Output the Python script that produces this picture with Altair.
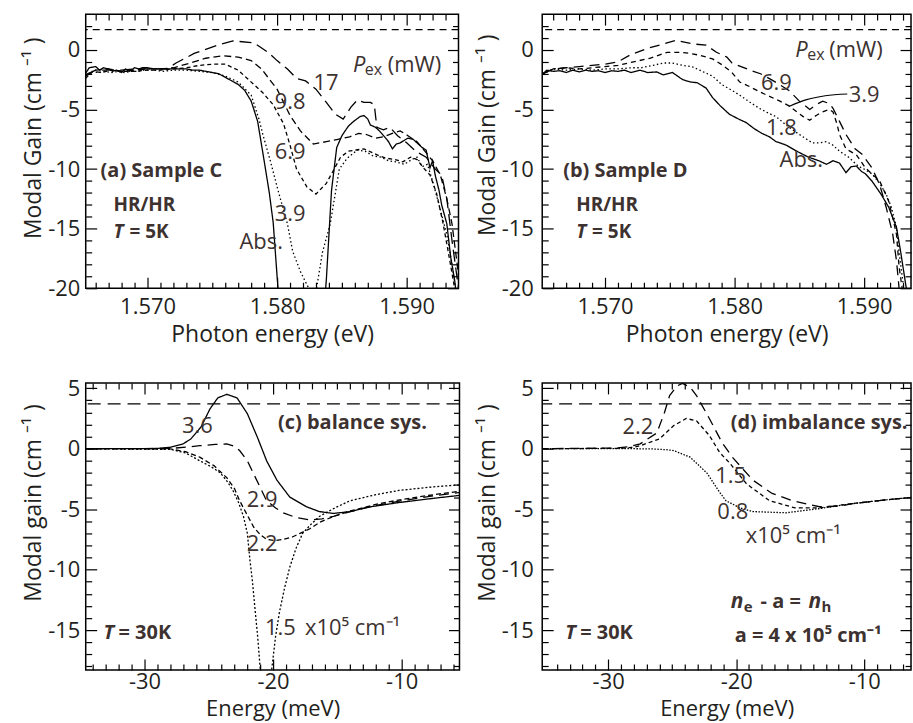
import altair as alt
import pandas as pd

FONT = "Open Sans"
AXIS_C = "#231f20"
NOTE_C = "#3d3230"

# ---------------- Panel (a): Sample C, photon energy (eV) vs modal gain ----------------
a_names = ["Abs.", "3.9", "6.9", "9.8", "17"]
a_abs = [(1.5652,-2.0),(1.5655,-1.5),(1.5660,-1.4),(1.5663,-1.7),(1.5666,-1.5),(1.5670,-1.6),(1.5673,-1.8),
         (1.5676,-1.7),(1.5680,-1.9),(1.5683,-1.6),(1.5686,-1.8),(1.5690,-1.5),(1.5693,-1.6),(1.5696,-1.5),
         (1.5700,-1.5),(1.5705,-1.6),(1.5710,-1.6),(1.5715,-1.6),(1.5720,-1.6),(1.5725,-1.6),(1.5730,-1.6),
         (1.5735,-1.7),(1.5740,-1.7),(1.5745,-1.8),(1.5750,-1.9),(1.5755,-2.0),(1.5760,-2.3),(1.5765,-2.6),
         (1.5770,-2.9),(1.5775,-3.4),(1.5780,-4.3),(1.5785,-6.0),(1.5790,-9.3),(1.5794,-12.0),(1.5797,-14.5),
         (1.5800,-19.0),(1.5802,-22.0),(1.5836,-22.0),(1.5838,-19.3),(1.5842,-11.8),(1.5846,-8.2),(1.5850,-7.2),
         (1.5855,-6.4),(1.5859,-6.0),(1.5864,-5.6),(1.5867,-5.5),(1.5870,-5.8),(1.5872,-6.3),(1.5876,-6.5),
         (1.5879,-6.8),(1.5883,-7.3),(1.5886,-7.7),(1.5889,-8.3),(1.5892,-7.9),(1.5895,-7.8),(1.5898,-7.6),
         (1.5901,-7.4),(1.5905,-7.5),(1.5908,-7.8),(1.5912,-8.2),(1.5915,-8.4),(1.5918,-9.9),(1.5920,-9.3),
         (1.5922,-10.5),(1.5925,-11.8),(1.5927,-13.0),(1.5931,-14.6),(1.5934,-17.4),(1.5937,-19.3),(1.5940,-22.0)]
a_39 = [(1.5652,-2.2),(1.5657,-1.8),(1.5662,-1.9),(1.5667,-1.8),(1.5672,-1.9),(1.5677,-1.8),(1.5682,-1.9),
        (1.5687,-1.8),(1.5692,-1.8),(1.5697,-1.7),(1.5705,-1.7),(1.5712,-1.8),(1.5720,-1.7),(1.5730,-1.7),
        (1.5740,-1.8),(1.5750,-1.9),(1.5760,-2.2),(1.5770,-2.7),(1.5780,-3.8),(1.5786,-5.8),(1.5789,-7.1),
        (1.5795,-9.4),(1.5801,-11.9),(1.5808,-14.6),(1.5812,-16.9),(1.5818,-18.6),(1.5823,-19.7),(1.5826,-20.3),
        (1.5830,-20.3),(1.5835,-17.0),(1.5841,-14.6),(1.5845,-12.0),(1.5848,-10.0),(1.5854,-9.1),(1.5862,-8.4),
        (1.5868,-8.5),(1.5874,-8.9),(1.5880,-9.0),(1.5886,-9.3),(1.5892,-9.4),(1.5898,-9.6),(1.5904,-9.2),
        (1.5908,-9.0),(1.5912,-9.8),(1.5916,-9.6),(1.5920,-11.0),(1.5925,-13.0),(1.5931,-15.5),(1.5935,-18.0),
        (1.5939,-21.0)]
a_69 = [(1.5652,-2.4),(1.5658,-1.8),(1.5665,-1.9),(1.5672,-1.7),(1.5680,-1.8),(1.5690,-1.8),(1.5700,-1.7),
        (1.5710,-1.7),(1.5720,-1.6),(1.5730,-1.5),(1.5740,-1.3),(1.5750,-1.2),(1.5760,-1.2),(1.5770,-1.7),
        (1.5777,-2.4),(1.5783,-3.0),(1.5789,-3.6),(1.5797,-4.6),(1.5805,-6.2),(1.5810,-8.0),(1.5815,-10.0),
        (1.5823,-11.5),(1.5830,-12.1),(1.5838,-11.2),(1.5844,-10.0),(1.5849,-9.0),(1.5855,-8.5),(1.5861,-8.4),
        (1.5867,-8.3),(1.5873,-8.6),(1.5879,-8.9),(1.5885,-9.1),(1.5891,-9.2),(1.5897,-9.4),(1.5903,-9.0),
        (1.5908,-9.2),(1.5913,-9.9),(1.5918,-10.5),(1.5923,-12.0),(1.5928,-14.5),(1.5933,-17.5),(1.5937,-20.0),
        (1.5941,-22.0)]
a_98 = [(1.5652,-2.2),(1.5660,-1.7),(1.5670,-1.6),(1.5680,-1.8),(1.5690,-1.7),(1.5700,-1.6),(1.5710,-1.6),
        (1.5720,-1.5),(1.5733,-1.1),(1.5745,-0.7),(1.5758,-0.5),(1.5770,-0.6),(1.5780,-0.9),(1.5788,-1.6),
        (1.5795,-2.6),(1.5800,-3.3),(1.5805,-4.4),(1.5810,-5.5),(1.5818,-6.8),(1.5828,-7.9),(1.5838,-7.7),
        (1.5847,-7.5),(1.5856,-7.3),(1.5863,-7.0),(1.5869,-7.1),(1.5876,-7.4),(1.5882,-7.3),(1.5889,-7.0),
        (1.5895,-6.8),(1.5901,-7.2),(1.5908,-7.7),(1.5914,-8.5),(1.5920,-9.3),(1.5926,-10.5),(1.5931,-12.5),
        (1.5935,-14.6),(1.5939,-18.0),(1.5943,-22.0)]
a_17 = [(1.5652,-2.1),(1.5660,-1.7),(1.5670,-1.7),(1.5680,-1.7),(1.5690,-1.6),(1.5700,-1.6),(1.5708,-1.6),
        (1.5715,-1.6),(1.5722,-1.1),(1.5736,-0.3),(1.5754,0.4),(1.5766,0.75),(1.5782,0.6),(1.5793,-0.2),
        (1.5800,-0.9),(1.5808,-1.6),(1.5815,-2.4),(1.5822,-2.6),(1.5830,-3.3),(1.5838,-4.4),(1.5845,-5.4),
        (1.5851,-5.8),(1.5857,-4.8),(1.5862,-4.2),(1.5867,-4.4),(1.5872,-4.4),(1.5875,-4.6),(1.5877,-6.5),
        (1.5882,-6.7),(1.5887,-6.5),(1.5893,-7.2),(1.5900,-7.8),(1.5907,-8.5),(1.5915,-9.0),(1.5922,-10.0),
        (1.5927,-10.5),(1.5931,-12.5),(1.5935,-16.0),(1.5940,-20.0),(1.5943,-22.0)]

# ---------------- Panel (b): Sample D ----------------
b_names = ["Abs.", "1.8", "3.9", "6.9"]
b_abs = [(1.5652,-2.0),(1.5655,-1.7),(1.5660,-1.8),(1.5665,-1.75),(1.5670,-1.9),(1.5675,-1.7),(1.5680,-1.85),
         (1.5685,-1.7),(1.5690,-1.8),(1.5695,-1.75),(1.5700,-1.9),(1.5705,-1.75),(1.5710,-1.8),(1.5715,-1.7),
         (1.5720,-1.9),(1.5727,-1.7),(1.5733,-1.9),(1.5740,-1.85),(1.5745,-2.1),(1.5752,-1.9),(1.5760,-2.5),
         (1.5766,-2.7),(1.5771,-2.75),(1.5778,-3.2),(1.5783,-4.0),(1.5789,-4.7),(1.5796,-5.4),(1.5803,-5.8),
         (1.5809,-6.1),(1.5815,-6.6),(1.5821,-7.0),(1.5827,-7.3),(1.5832,-7.7),(1.5835,-7.8),(1.5840,-8.0),
         (1.5848,-8.5),(1.5857,-9.0),(1.5865,-9.3),(1.5871,-9.6),(1.5876,-9.3),(1.5881,-9.5),(1.5886,-10.3),
         (1.5890,-9.8),(1.5894,-9.75),(1.5898,-10.2),(1.5901,-10.4),(1.5906,-11.0),(1.5913,-12.1),(1.5919,-13.2),
         (1.5925,-14.9),(1.5928,-16.8),(1.5932,-19.6),(1.5934,-21.0)]
b_18 = [(1.5652,-2.0),(1.5660,-1.6),(1.5670,-1.7),(1.5680,-1.6),(1.5690,-1.7),(1.5700,-1.6),(1.5710,-1.6),
        (1.5720,-1.5),(1.5728,-1.5),(1.5737,-1.3),(1.5745,-1.1),(1.5752,-1.1),(1.5760,-1.3),(1.5767,-1.4),
        (1.5773,-1.7),(1.5783,-2.2),(1.5790,-2.9),(1.5798,-3.4),(1.5804,-3.8),(1.5812,-4.4),(1.5819,-4.9),
        (1.5826,-5.3),(1.5832,-5.6),(1.5841,-6.4),(1.5850,-7.1),(1.5860,-7.8),(1.5866,-7.8),(1.5871,-7.7),
        (1.5876,-8.0),(1.5881,-8.5),(1.5888,-9.0),(1.5896,-9.8),(1.5900,-10.0),(1.5906,-10.4),(1.5912,-11.2),
        (1.5917,-12.1),(1.5921,-13.2),(1.5925,-14.9),(1.5927,-17.0),(1.5930,-19.5),(1.5932,-21.0)]
b_39 = [(1.5652,-2.0),(1.5660,-1.6),(1.5670,-1.5),(1.5680,-1.6),(1.5690,-1.5),(1.5700,-1.4),(1.5710,-1.3),
        (1.5722,-1.0),(1.5735,-0.7),(1.5748,-0.2),(1.5758,-0.2),(1.5766,-0.3),(1.5773,-0.45),(1.5783,-0.75),
        (1.5791,-1.3),(1.5798,-1.9),(1.5804,-2.7),(1.5812,-3.1),(1.5819,-3.5),(1.5827,-3.9),(1.5835,-4.3),
        (1.5842,-4.7),(1.5848,-5.2),(1.5853,-5.6),(1.5858,-5.9),(1.5863,-5.5),(1.5868,-5.2),(1.5873,-5.0),
        (1.5876,-5.2),(1.5879,-6.2),(1.5881,-7.1),(1.5886,-8.3),(1.5894,-8.8),(1.5901,-9.9),(1.5906,-10.4),
        (1.5912,-11.0),(1.5919,-12.7),(1.5923,-14.5),(1.5925,-15.5),(1.5927,-18.2),(1.5930,-20.5)]
b_69 = [(1.5652,-2.0),(1.5660,-1.6),(1.5670,-1.5),(1.5680,-1.4),(1.5690,-1.3),(1.5700,-1.2),(1.5710,-1.0),
        (1.5719,-0.45),(1.5732,0.1),(1.5745,0.5),(1.5755,0.8),(1.5768,0.5),(1.5778,0.4),(1.5786,-0.2),
        (1.5794,-0.6),(1.5798,-1.1),(1.5812,-1.7),(1.5820,-2.0),(1.5830,-2.6),(1.5842,-3.4),(1.5850,-4.3),
        (1.5858,-5.0),(1.5863,-4.6),(1.5868,-4.3),(1.5873,-4.5),(1.5876,-4.9),(1.5881,-6.0),(1.5886,-7.1),
        (1.5893,-8.3),(1.5899,-8.8),(1.5902,-9.3),(1.5906,-9.9),(1.5912,-11.3),(1.5917,-13.2),(1.5922,-15.4),
        (1.5925,-17.7),(1.5927,-20.0),(1.5929,-21.0)]
b_leader = [(1.5842,-4.75),(1.5855,-4.2),(1.5870,-3.85),(1.5887,-3.7)]

# ---------------- Panel (c): balance system, energy (meV) ----------------
c_names = ["3.6", "2.9", "2.2", "1.5"]
c_36 = [(-35,0),(-30,0),(-29,0.02),(-28,0.12),(-27,0.4),(-26.4,0.8),(-25.6,1.8),(-24.9,3.3),(-24.3,4.2),
        (-23.6,4.5),(-22.8,4.2),(-22.0,2.9),(-21.2,0.9),(-20.5,-1.0),(-19.7,-2.6),(-18.7,-4.0),(-17.4,-4.8),
        (-16.4,-5.2),(-15.3,-5.35),(-14.0,-5.2),(-12.7,-4.85),(-10.2,-4.45),(-7.5,-4.1),(-5.0,-3.8)]
c_29 = [(-35,0),(-28,0.02),(-26.5,0.15),(-25.7,0.25),(-24.5,0.35),(-23.6,0.4),(-23.0,0.2),(-22.6,-0.15),
        (-22.0,-1.0),(-21.5,-2.1),(-21.0,-3.2),(-20.5,-4.3),(-19.8,-4.9),(-19.2,-5.3),(-18.2,-5.7),(-17.1,-5.9),
        (-16.2,-5.8),(-15.3,-5.6),(-14.0,-5.2),(-12.0,-4.7),(-10.0,-4.3),(-7.5,-3.9),(-5.0,-3.55)]
c_22 = [(-35,0),(-28,-0.02),(-26.8,-0.25),(-25.7,-0.7),(-24.6,-1.4),(-23.6,-2.4),(-23.0,-3.3),(-22.6,-4.3),
        (-22.0,-5.5),(-21.5,-6.5),(-21.0,-7.1),(-20.5,-7.5),(-19.8,-7.6),(-19.2,-7.5),(-18.5,-7.3),(-17.9,-7.0),
        (-17.1,-6.6),(-16.4,-6.1),(-15.3,-5.6),(-14.0,-5.15),(-12.0,-4.6),(-10.0,-4.2),(-7.5,-3.8),(-5.0,-3.45)]
c_15 = [(-35,0),(-28,-0.05),(-26.8,-0.35),(-25.7,-1.0),(-24.8,-1.5),(-24.1,-2.0),(-23.5,-2.8),(-23.1,-3.5),
        (-22.7,-4.4),(-22.3,-5.6),(-22.0,-7.0),(-21.8,-9.2),(-21.6,-11.0),(-21.4,-13.3),(-21.2,-15.5),
        (-21.0,-18.2),(-20.8,-20.5),(-20.3,-20.5),(-20.1,-18.2),(-19.8,-15.5),(-19.5,-13.5),(-19.1,-11.5),
        (-18.7,-9.8),(-18.2,-8.2),(-17.7,-7.0),(-17.0,-6.2),(-16.4,-5.6),(-15.2,-4.9),(-14.0,-4.3),(-12.0,-3.8),
        (-10.2,-3.45),(-7.5,-3.15),(-5.0,-2.95)]

# ---------------- Panel (d): imbalance system ----------------
d_names = ["2.2", "1.5", "0.8"]
d_22 = [(-35.5,0),(-29.5,0.05),(-28.5,0.15),(-27.5,0.4),(-26.2,1.3),(-25.6,3.0),(-25.2,4.4),(-24.6,5.2),
        (-24.2,5.4),(-23.6,5.1),(-23.1,4.4),(-22.1,2.5),(-21.1,0.5),(-20.3,-0.7),(-18.7,-2.6),(-17.2,-3.7),
        (-15.6,-4.3),(-13.5,-4.8),(-12.0,-4.75),(-10.9,-4.55),(-8.5,-4.25),(-6.0,-4.0)]
d_15 = [(-35.5,0),(-29.0,0.03),(-28.0,0.12),(-27.5,0.25),(-26.0,0.8),(-24.9,1.9),(-23.9,2.5),(-23.1,2.3),
        (-22.1,1.1),(-21.3,-0.3),(-20.5,-1.2),(-19.2,-2.9),(-17.4,-4.3),(-15.4,-4.9),(-13.5,-4.9),(-11.0,-4.55),
        (-8.5,-4.25),(-6.0,-4.0)]
d_08 = [(-35.5,0),(-28.0,0.0),(-26.5,-0.02),(-25.5,-0.08),(-24.9,-0.15),(-23.6,-0.7),(-22.3,-2.0),(-21.3,-3.6),
        (-20.8,-4.3),(-19.7,-4.9),(-18.7,-5.2),(-16.1,-5.3),(-13.5,-4.95),(-11.0,-4.55),(-8.5,-4.25),(-6.0,-4.0)]

# axis tick values
ab_xmaj = [1.570, 1.580, 1.590]
ab_xmin = [round(1.566 + 0.001 * i, 3) for i in range(28) if (6 + i) % 10 != 0]
ab_ymaj = [-20, -15, -10, -5, 0]
ab_ymin = [v for v in range(-19, 3) if v % 5 != 0]
cd_xmaj = [-30, -20, -10]
cd_xmin = [v for v in range(-34, -5) if v % 10 != 0]
cd_ymaj = [-15, -10, -5, 0, 5]
cd_ymin = [v for v in range(-18, 6) if v % 5 != 0]

# annotations: x, y (baseline), text, size, weight, style, dx, dy, align
def N(x, y, t, size=22, weight="normal", style="normal", dx=0, dy=0, align="center"):
    return dict(x=x, y=y, t=t, size=size, weight=weight, style=style, dx=dx, dy=dy, align=align)

a_notes = [
    N(1.58585, -1.84, "P", style="italic", align="left"),
    N(1.58585, -1.84, "ex", size=16, dx=12, dy=3, align="left"),
    N(1.58585, -1.84, "(mW)", dx=35, align="left"),
    N(1.58377, -3.35, "17"), N(1.58100, -4.94, "9.8"), N(1.58100, -9.12, "6.9"),
    N(1.58100, -14.39, "3.9"), N(1.57877, -16.74, "Abs."),
    N(1.56638, -10.63, "(a) Sample C", size=20, weight="bold", align="left"),
    N(1.56738, -13.55, "HR/HR", size=19, weight="bold", align="left"),
    N(1.56738, -15.8, "T", size=19, weight="bold", style="italic", align="left"),
    N(1.56738, -15.8, "= 5K", size=19, weight="bold", dx=16, align="left"),
]
b_notes = [
    N(1.58469, -0.59, "P", style="italic", align="left"),
    N(1.58469, -0.59, "ex", size=16, dx=12, dy=3, align="left"),
    N(1.58469, -0.59, "(mW)", dx=34, align="left"),
    N(1.58323, -3.35, "6.9"), N(1.59000, -4.35, "3.9"), N(1.58362, -7.11, "1.8"), N(1.58515, -9.79, "Abs."),
    N(1.56677, -10.63, "(b) Sample D", size=20, weight="bold", align="left"),
    N(1.56777, -13.55, "HR/HR", size=19, weight="bold", align="left"),
    N(1.56777, -15.8, "T", size=19, weight="bold", style="italic", align="left"),
    N(1.56777, -15.8, "= 5K", size=19, weight="bold", dx=16, align="left"),
]
c_notes = [
    N(-25.89, 1.32, "3.6"), N(-20.85, -4.78, "2.9"), N(-20.85, -8.49, "2.2"),
    N(-20.62, -15.42, "1.5", align="left"), N(-17.52, -15.42, "x10\u2075 cm\u207b\u00b9", align="left"),
    N(-19.61, 1.65, "(c) balance sys.", size=20, weight="bold", align="left"),
    N(-33.18, -15.75, "T", size=20, weight="bold", style="italic", align="left"),
    N(-33.18, -15.75, "= 30K", size=20, weight="bold", dx=15, align="left"),
]
d_notes = [
    N(-27.67, 1.24, "2.2"), N(-20.43, -2.8, "1.5"), N(-20.27, -5.85, "0.8"),
    N(-19.26, -7.83, "x10\u2075 cm\u207b\u00b9", align="left"),
    N(-20.43, 1.65, "(d) imbalance sys.", size=20, weight="bold", align="left"),
    N(-20.43, -13.19, "n", size=21, weight="bold", style="italic", align="left"),
    N(-20.43, -13.19, "e", size=15, weight="bold", dx=13, dy=4, align="left"),
    N(-20.43, -13.19, "- a =", size=20, weight="bold", dx=30, align="left"),
    N(-20.43, -13.19, "n", size=21, weight="bold", style="italic", dx=78, align="left"),
    N(-20.43, -13.19, "h", size=15, weight="bold", dx=91, dy=4, align="left"),
    N(-20.12, -16.0, "a = 4 x 10\u2075 cm\u207b\u00b9", size=20, weight="bold", align="left"),
    N(-33.35, -15.75, "T", size=20, weight="bold", style="italic", align="left"),
    N(-33.35, -15.75, "= 30K", size=20, weight="bold", dx=15, align="left"),
]

MINUS_FIX = "replace(datum.label, '\u2212', '-')"


def to_df(arr):
    return pd.DataFrame({"x": [p[0] for p in arr], "y": [p[1] for p in arr], "o": list(range(len(arr)))})


def panel(names, arrays, dashes, xdom, ydom, w, h, xmaj, xmin, ymaj, ymin, xfmt,
          xtitle, ytitle, xlp, ylp, xtp, ytp, title_y, href, hdash, notes, leader=None, xts=23):
    xs = alt.Scale(domain=xdom, nice=False, zero=False)
    ys = alt.Scale(domain=ydom, nice=False, zero=False)
    layers = []
    layers.append(
        alt.Chart(pd.DataFrame({"y": [href]})).mark_rule(color="black", strokeWidth=1.2, strokeDash=hdash)
        .encode(y=alt.Y("y:Q", scale=ys, axis=None))
    )
    for k, (name, arr, dash) in enumerate(zip(names, arrays, dashes)):
        if k == 0:
            xax = alt.Axis(orient="bottom", values=xmaj, format=xfmt, labelExpr=MINUS_FIX, ticks=False, tickSize=0,
                           domain=False, grid=False, labelPadding=xlp, title=xtitle, titlePadding=xtp,
                           titleFontSize=xts)
            yax = alt.Axis(orient="left", values=ymaj, format="d", labelExpr=MINUS_FIX, ticks=False, tickSize=0,
                           domain=False, grid=False, labelPadding=ylp, title=ytitle, titlePadding=ytp,
                           titleY=title_y)
        else:
            xax = None
            yax = None
        layers.append(
            alt.Chart(to_df(arr)).mark_line(clip=True, strokeWidth=1.3, color="black", strokeDash=dash).encode(
                x=alt.X("x:Q", scale=xs, axis=xax),
                y=alt.Y("y:Q", scale=ys, axis=yax),
                order="o:Q",
            )
        )
    if leader is not None:
        layers.append(
            alt.Chart(to_df(leader)).mark_line(color="black", strokeWidth=1.2, interpolate="monotone").encode(
                x=alt.X("x:Q", scale=xs, axis=None), y=alt.Y("y:Q", scale=ys, axis=None))
        )
    for nt in notes:
        layers.append(
            alt.Chart(pd.DataFrame({"x": [nt["x"]], "y": [nt["y"]], "t": [nt["t"]]})).mark_text(
                font=FONT, fontSize=nt["size"], fontWeight=nt["weight"], fontStyle=nt["style"],
                align=nt["align"], baseline="alphabetic", dx=nt["dx"], dy=nt["dy"], color=NOTE_C,
            ).encode(x=alt.X("x:Q", scale=xs, axis=None), y=alt.Y("y:Q", scale=ys, axis=None), text="t:N")
        )

    tick_df = to_df(arrays[0])

    def ticks(xo, yo, xv, yv, size):
        return alt.Chart(tick_df).mark_point(opacity=0, clip=True).encode(
            x=alt.X("x:Q", scale=xs, axis=alt.Axis(orient=xo, values=xv, labels=False, domain=False, grid=False,
                                                   ticks=True, tickSize=size, tickWidth=1.2, tickColor="black",
                                                   offset=-size, title=None)),
            y=alt.Y("y:Q", scale=ys, axis=alt.Axis(orient=yo, values=yv, labels=False, domain=False, grid=False,
                                                   ticks=True, tickSize=size, tickWidth=1.2, tickColor="black",
                                                   offset=-size, title=None)),
        )

    layers.append(ticks("bottom", "left", xmaj, ymaj, 11))
    layers.append(ticks("bottom", "left", xmin, ymin, 6))
    layers.append(ticks("top", "right", xmaj, ymaj, 11))
    layers.append(ticks("top", "right", xmin, ymin, 6))
    return alt.layer(*layers).resolve_axis(x="independent", y="independent").properties(width=w, height=h)


SOLID = [1, 0]
DOT = [1.5, 2.5]
TITLE_AB = "Modal Gain (cm \u207b\u00b9 )"
TITLE_CD = "Modal gain (cm \u207b\u00b9 )"
pa = panel(a_names, [a_abs, a_39, a_69, a_98, a_17], [SOLID, DOT, [4, 3], [7, 4], [12, 6]],
           [1.56523, 1.5940], [-20, 3.0], 374, 275, ab_xmaj, ab_xmin, ab_ymaj, ab_ymin, ".3f",
           "Photon energy (eV)", TITLE_AB, 8, 6, 6, 2, 124, 1.7, [7, 5], a_notes)
pb = panel(b_names, [b_abs, b_18, b_39, b_69], [SOLID, DOT, [5, 4], [10, 6]],
           [1.56515, 1.59362], [-20, 3.0], 370, 275, ab_xmaj, ab_xmin, ab_ymaj, ab_ymin, ".3f",
           "Photon energy (eV)", TITLE_AB, 8, 9, 6, 2, 121, 1.7, [7, 5], b_notes, leader=b_leader)
pc = panel(c_names, [c_36, c_29, c_22, c_15], [SOLID, [10, 6], [5, 3], [2, 2]],
           [-34.57, -5.5], [-18.30, 5.44], 375, 288, cd_xmaj, cd_xmin, cd_ymaj, cd_ymin, "d",
           "Energy (meV)", TITLE_CD, 2, 6, 6, 2, 120, 3.7, [13, 7], c_notes, xts=22)
pd_ = panel(d_names, [d_22, d_15, d_08], [[10, 6], [4, 3], [1.5, 1.5]],
            [-35.15, -6.35], [-18.30, 5.44], 370, 288, cd_xmaj, cd_xmin, cd_ymaj, cd_ymin, "d",
            "Energy (meV)", TITLE_CD, 2, 9, 6, 2, 120, 3.7, [13, 7], d_notes, xts=22)

chart = (
    alt.concat(pa, pb, pc, pd_, columns=2, spacing={"row": 95, "column": 83}, bounds="flush", align="each")
    .properties(padding={"left": 22, "top": 11, "right": 0, "bottom": 0})
    .configure(font=FONT, background="white")
    .configure_view(stroke="black", strokeWidth=1.5)
    .configure_axis(labelFont=FONT, labelFontSize=22, labelColor=AXIS_C, titleFont=FONT, titleFontSize=23,
                    titleFontWeight="normal", titleColor=AXIS_C)
)
chart.save("out.html", embed_options={"renderer": "svg", "actions": False})
